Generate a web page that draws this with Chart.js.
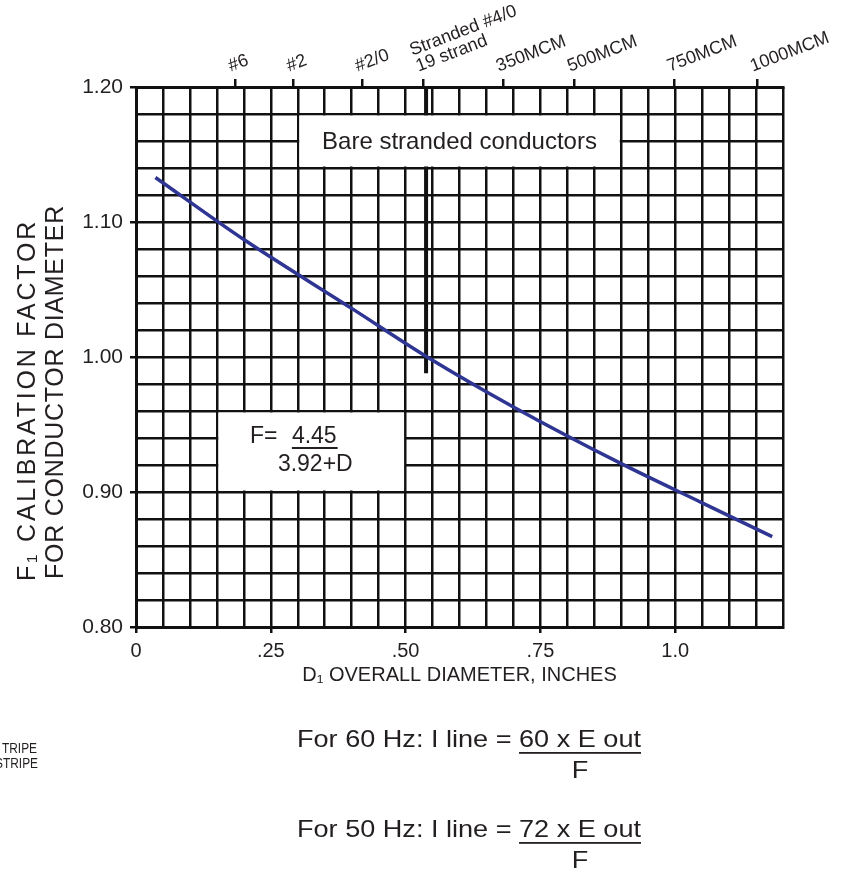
<!DOCTYPE html>
<html lang="en">
<head>
<meta charset="UTF-8" />
<title>F1 calibration factor</title>
<script src="https://cdn.jsdelivr.net/npm/chart.js@4.4.0/dist/chart.umd.min.js"></script>
<style>
  body { margin: 0; background: #fff; }
  #wrap { width: 851px; height: 876px; }
</style>
</head>
<body>
<div id="wrap"><canvas id="myChart" width="851" height="876"></canvas></div>
<script>
// curve (D in inches, F1)
const diameters = [0.036, 0.2, 0.4, 0.54, 0.7, 0.9, 1.05, 1.18];
const factors   = [1.133, 1.087, 1.036, 1.000, 0.963, 0.921, 0.892, 0.867];

const xTickValues = [0, 0.25, 0.5, 0.75, 1.0];
const xTickLabels = ['0', '.25', '.50', '.75', '1.0'];
const yTickValues = [0.8, 0.9, 1.0, 1.1, 1.2];
const yTickLabels = ['0.80', '0.90', '1.00', '1.10', '1.20'];

// conductor sizes along the top edge
const conductorDiameters = [0.184, 0.292, 0.419, 0.532, 0.681, 0.813, 0.998, 1.152];
const conductorSizes = ['#6', '#2', '#2/0', ['Stranded #4/0', '19 strand'], '350MCM', '500MCM', '750MCM', '1000MCM'];

// #4/0 drop line
const markerX = [0.538, 0.538];
const markerY = [1.2, 0.988];

const INK = '#111';
const TEXT = '#231f20';
const BLUE = '#2e3592';
const FONT = '"Liberation Sans", Arial, sans-serif';

// blanked-out parts of the grid: [x0, x1, y0, y1] in data units
const blankAreas = [
  [0.30, 0.90, 1.14, 1.18],
  [0.15, 0.50, 0.90, 0.96]
];

function findLabel(v, values, labels) {
  for (let i = 0; i < values.length; i++) {
    if (Math.abs(v - values[i]) < 1e-6) return labels[i];
  }
  return '';
}

// draw text reading upward, spread out to a given length
function upText(ctx, text, cx, cy, len) {
  ctx.save();
  ctx.translate(cx, cy);
  ctx.rotate(-Math.PI / 2);
  const natural = ctx.measureText(text).width;
  if ('letterSpacing' in ctx && len > natural) {
    ctx.letterSpacing = ((len - natural) / text.length).toFixed(2) + 'px';
  }
  const w = ctx.measureText(text).width;
  if (Math.abs(w - natural) < 1) ctx.scale(len / natural, 1);
  ctx.fillText(text, 0, 0);
  ctx.restore();
}

const notes = {
  id: 'notes',
  afterDatasetsDraw(chart) {
    const { ctx, scales: { x, y } } = chart;
    ctx.save();
    ctx.fillStyle = '#fff';
    blankAreas.forEach(b => {
      const l = x.getPixelForValue(b[0]) + 1.5, r = x.getPixelForValue(b[1]) - 1.5;
      const t = y.getPixelForValue(b[3]) + 1.5, bt = y.getPixelForValue(b[2]) - 1.5;
      ctx.fillRect(l, t, r - l, bt - t);
    });

    ctx.fillStyle = TEXT;
    ctx.textBaseline = 'middle';
    // caption box
    const b1 = blankAreas[0];
    ctx.font = '24px ' + FONT;
    ctx.textAlign = 'center';
    ctx.fillText('Bare stranded conductors',
      (x.getPixelForValue(b1[0]) + x.getPixelForValue(b1[1])) / 2,
      (y.getPixelForValue(b1[2]) + y.getPixelForValue(b1[3])) / 2 + 1);

    // formula box
    const b2 = blankAreas[1];
    const bx = x.getPixelForValue(b2[0]);
    const by = y.getPixelForValue(b2[3]);
    ctx.font = '23px ' + FONT;
    ctx.textAlign = 'left';
    ctx.fillText('F=', bx + 33, by + 26);
    ctx.fillText('4.45', bx + 75, by + 26);
    const w = ctx.measureText('4.45').width;
    ctx.fillRect(bx + 75, by + 36, w + 1, 2);
    ctx.fillText('3.92+D', bx + 61, by + 54);
    ctx.restore();
  },
  afterDraw(chart) {
    const ctx = chart.ctx;
    ctx.save();
    ctx.fillStyle = TEXT;
    ctx.textBaseline = 'middle';

    // y axis title, two lines reading upward
    ctx.font = '25px ' + FONT;
    ctx.textAlign = 'center';
    upText(ctx, 'F\u2081 CALIBRATION FACTOR', 28, 400, 362);
    upText(ctx, 'FOR CONDUCTOR DIAMETER', 56, 392, 374);

    function formula(y, prefix, num) {
      ctx.font = '24px ' + FONT;
      const full = ctx.measureText(prefix + num).width;
      const sx = 344 / full;
      ctx.save();
      ctx.translate(297, y);
      ctx.scale(sx, 1);
      ctx.textAlign = 'left';
      ctx.fillText(prefix + num, 0, 0);
      const pw = ctx.measureText(prefix).width;
      const nw = ctx.measureText(num).width;
      ctx.fillRect(pw, 12, nw, 1.8);
      ctx.textAlign = 'center';
      ctx.fillText('F', pw + nw / 2, 31);
      ctx.restore();
    }
    formula(740, 'For 60 Hz: I line = ', '60 x E out');
    formula(830, 'For 50 Hz: I line = ', '72 x E out');

    // clipped legend words at the left edge
    ctx.font = '14px ' + FONT;
    ctx.textAlign = 'right';
    ctx.save();
    ctx.scale(0.85, 1);
    ctx.fillText('TRIPE', 37 / 0.85, 749);
    ctx.fillText('STRIPE', 38 / 0.85, 764);
    ctx.restore();
    ctx.restore();
  }
};

const ctx = document.getElementById('myChart').getContext('2d');
new Chart(ctx, {
  type: 'scatter',
  data: {
    datasets: [
      {
        data: diameters.map((d, i) => ({ x: d, y: factors[i] })),
        showLine: true,
        borderColor: BLUE,
        borderWidth: 3.5,
        pointRadius: 0,
        cubicInterpolationMode: 'monotone'
      },
      {
        data: markerX.map((d, i) => ({ x: d, y: markerY[i] })),
        showLine: true,
        borderColor: INK,
        borderWidth: 4,
        pointRadius: 0
      }
    ]
  },
  options: {
    responsive: false,
    animation: false,
    layout: { padding: { left: 0, top: 0, right: 68, bottom: 189 } },
    plugins: { legend: { display: false }, tooltip: { enabled: false } },
    scales: {
      x: {
        type: 'linear',
        position: 'bottom',
        min: 0,
        max: 1.2,
        afterFit(s) { s.height = 60; s.paddingLeft = 0; s.paddingRight = 0; },
        ticks: {
          stepSize: 0.05,
          autoSkip: false,
          maxRotation: 0,
          padding: 6,
          color: TEXT,
          font: { family: FONT, size: 20 },
          callback: v => findLabel(v, xTickValues, xTickLabels)
        },
        grid: {
          color: INK,
          lineWidth: 2.5,
          tickLength: 6,
          tickColor: c => findLabel(c.tick.value, xTickValues, xTickLabels) ? INK : 'rgba(0,0,0,0)'
        },
        border: { color: INK, width: 3 },
        title: {
          display: true,
          text: 'D\u2081 OVERALL DIAMETER, INCHES',
          color: TEXT,
          font: { family: FONT, size: 20 },
          padding: { top: 4, bottom: 0 }
        }
      },
      x2: {
        type: 'linear',
        position: 'top',
        min: 0,
        max: 1.2,
        afterBuildTicks(s) { s.ticks = conductorDiameters.map(v => ({ value: v })); },
        afterFit(s) { s.height = 87; s.paddingLeft = 0; s.paddingRight = 0; },
        ticks: {
          autoSkip: false,
          minRotation: 21,
          maxRotation: 21,
          padding: 4,
          color: TEXT,
          font: { family: FONT, size: 18, lineHeight: 0.95 },
          callback: (v, i) => conductorSizes[i]
        },
        grid: { drawOnChartArea: false, color: INK, lineWidth: 2.5, tickLength: 8 },
        border: { color: INK, width: 3 }
      },
      y: {
        type: 'linear',
        min: 0.8,
        max: 1.2,
        afterFit(s) { s.width = 136; s.paddingTop = 0; s.paddingBottom = 0; },
        ticks: {
          stepSize: 0.02,
          autoSkip: false,
          padding: 7,
          color: TEXT,
          font: { family: FONT, size: 21 },
          callback: v => findLabel(v, yTickValues, yTickLabels)
        },
        grid: {
          color: INK,
          lineWidth: 2.5,
          tickLength: 6,
          tickColor: c => findLabel(c.tick.value, yTickValues, yTickLabels) ? INK : 'rgba(0,0,0,0)'
        },
        border: { color: INK, width: 3 }
      }
    }
  },
  plugins: [notes]
});
</script>
</body>
</html>
